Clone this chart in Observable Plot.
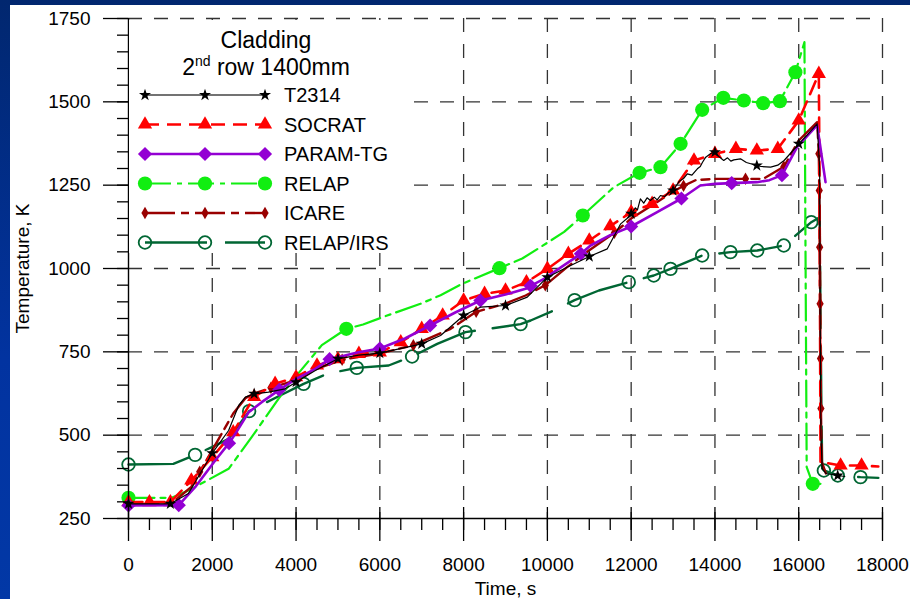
<!DOCTYPE html>
<html>
<head>
<meta charset="utf-8">
<script src="https://cdn.jsdelivr.net/npm/d3@7"></script>
<script src="https://cdn.jsdelivr.net/npm/@observablehq/plot@0.6"></script>
<style>
  body { margin: 0; }
  #wrap { position: relative; width: 910px; height: 599px; overflow: hidden;
          background: linear-gradient(180deg, #01276f 0%, #0233a0 60%, #0238a6 100%); }
  #chartbox { position: absolute; left: 10px; top: 5px; width: 900px; height: 594px; z-index: 1; }
  #legend { position: absolute; left: 129px; top: 20px; width: 274px; height: 233px; background: #ffffff; z-index: 5; }
</style>
</head>
<body>
<div id="wrap"><div id="chartbox"></div></div>
<script>
// ---------------- data ----------------
const t2314Time = [0,500,1000,1430,2000,2390,2630,2790,3000,3340,3740,4000,4460,5000,5500,6000,6650,7000,7450,8000,8400,9000,9520,10000,10470,11000,11430,11750,11900,12000,12100,12150,12220,12300,12380,12460,12550,12620,12700,12800,12900,13000,13150,13250,13340,13450,13580,13650,13700,13780,13900,14000,14100,14210,14300,14380,14450,14610,14750,15000,15100,15330,15500,15650,15800,16000,16200,16440,16500,16510,16530,16560,16650,16930,17100];
const t2314Temp = [294,294,294,325,446,514,589,614,624,629,639,659,694,729,740,746,764,774,799,859,884,889,914,974,1004,1036,1059,1134,1150,1164,1182,1176,1209,1196,1212,1204,1214,1206,1219,1216,1228,1234,1262,1270,1284,1280,1299,1306,1318,1334,1345,1349,1335,1324,1332,1322,1326,1329,1318,1309,1306,1304,1310,1324,1345,1374,1400,1434,1300,900,500,400,385,379,376];
const t2314Marks = [0,1000,2000,3000,4000,5000,6000,7000,8000,9000,10000,11000,12000,13000,14000,15000,16000,16930];

const socratTime = [0,500,1000,1500,2000,2500,3000,3500,4000,4500,5000,5500,6000,6500,7000,7500,8000,8500,9000,9500,10000,10500,11000,11500,12000,12500,13000,13500,14000,14500,15000,15500,16000,16480,16500,16520,17000,17500,17900];
const socratTemp = [299,299,299,364,434,509,615,654,674,709,728,744,748,779,819,859,904,924,934,959,999,1044,1084,1127,1169,1194,1234,1324,1344,1359,1354,1359,1444,1584,1200,420,409,409,406];
const socratMarks = [0,500,1000,1500,2000,2500,3000,3500,4000,4500,5000,5500,6000,6500,7000,7500,8000,8500,9000,9500,10000,10500,11000,11500,12000,12500,13000,13500,14000,14500,15000,15500,16000,16480,17000,17500];

const paramTime = [0,1200,1590,2070,2400,2550,2870,3180,3600,4000,4460,4800,5490,6000,6600,7200,7800,8400,9000,9480,9600,9920,10400,10800,11030,11500,12000,12620,13200,13650,14000,14400,15000,15300,15600,15960,16440,16640];
const paramTemp = [289,290,344,424,476,504,569,599,636,669,699,728,749,760,790,829,868,904,922,939,948,969,1010,1044,1069,1100,1126,1169,1210,1249,1254,1256,1259,1265,1280,1364,1430,1259];
const paramMarks = [0,1200,2400,3600,4800,6000,7200,8400,9600,10800,12000,13200,14400,15600];

const relapTime = [0,1030,1430,2390,2940,3580,3980,4615,5200,5600,6175,6970,7450,7965,8856,9400,9835,10400,10845,11585,12200,12700,13180,13695,14200,14690,15150,15550,15920,16137,16160,16190,16336,16650];
const relapTemp = [312,312,334,399,494,609,674,770,819,832,859,894,920,954,1001,1030,1064,1110,1159,1244,1287,1304,1374,1476,1512,1504,1496,1502,1589,1679,1100,404,354,354];
const relapMarks = [0,5200,8856,10845,12200,12700,13180,13695,14200,14690,15150,15550,15920,16336];

const icareTime = [0,1000,1500,1700,2000,2500,2800,3000,3400,4000,4500,5100,5500,6000,6800,7690,8300,9000,9480,9950,10470,11000,11600,12000,12500,13000,13250,13540,14000,14730,15150,15644,16000,16440,16480,16490,16500,16510,16520,16530,16550,16650];
const icareTemp = [292,292,345,390,455,565,612,625,642,665,700,726,735,745,770,819,870,895,919,950,1004,1055,1107,1150,1190,1230,1248,1265,1269,1269,1269,1305,1384,1439,1344,1234,1064,894,730,580,420,385];
const icareMarks = [0,1700,3400,5100,6800,8300,9950,11600,13250,14730,15644,16480,16490,16500,16510,16520,16530];

const irsTime = [0,1070,1590,1990,2390,2880,3060,3620,4180,4740,5450,6210,6770,7370,8045,9360,9600,10150,10650,11230,11943,12540,12940,13695,14370,15010,15644,16300,16500,16540,16560,16600,16933,17475,17900];
const irsTemp = [412,414,441,464,489,572,584,619,654,684,702,709,736,774,809,833,844,874,905,934,959,979,999,1039,1049,1054,1069,1139,1154,600,400,394,379,374,372];
const irsMarks = [0,1590,2880,4180,5450,6770,8045,9360,10650,11943,12540,12940,13695,14370,15010,15644,16300,16600,16933,17475];

const xMajorTicks = [0,2000,4000,6000,8000,10000,12000,14000,16000,18000];
const yMajorTicks = [250,500,750,1000,1250,1500,1750];
const seriesNames = ["T2314","SOCRAT","PARAM-TG","RELAP","ICARE","RELAP/IRS"];
const legendTitle = "Cladding";
const xLabel = "Time, s";
const yLabel = "Temperature, K";

// ---------------- helpers ----------------
const pts = (time, temp) => time.map((t, i) => ({t, v: temp[i]}));
const marksOf = (time, temp, m) => m.map(t => ({t, v: temp[time.indexOf(t)]}));

const styles = {
  "T2314":     {stroke: "#000000", width: 1.2, dash: null,        symbol: "star",     r: 3.8, fill: "#000000", mstroke: "none"},
  "SOCRAT":    {stroke: "#ff0000", width: 2.6, dash: "14,8",      symbol: "triangle", r: 5.3, fill: "#ff0000", mstroke: "none"},
  "PARAM-TG":  {stroke: "#9400d3", width: 2.6, dash: null,        symbol: "diamond2", r: 6.4, fill: "#9400d3", mstroke: "none"},
  "RELAP":     {stroke: "#11ee11", width: 2.2, dash: "26,6,5,6",  symbol: "circle",   r: 7.1, fill: "#11ee11", mstroke: "none"},
  "ICARE":     {stroke: "#990000", width: 2.4, dash: "30,6,8,6",  symbol: "diamond",  r: 3.8, fill: "#990000", mstroke: "none"},
  "RELAP/IRS": {stroke: "#006633", width: 2.4, dash: "62,18",     symbol: "circle",   r: 6.3, fill: "none",    mstroke: "#006633"}
};

const seriesData = {
  "T2314": [t2314Time, t2314Temp, t2314Marks],
  "SOCRAT": [socratTime, socratTemp, socratMarks],
  "PARAM-TG": [paramTime, paramTemp, paramMarks],
  "RELAP": [relapTime, relapTemp, relapMarks],
  "ICARE": [icareTime, icareTemp, icareMarks],
  "RELAP/IRS": [irsTime, irsTemp, irsMarks]
};

const drawOrder = ["RELAP/IRS","RELAP","ICARE","SOCRAT","PARAM-TG","T2314"];
const seriesMarks = [];
for (const name of drawOrder) {
  const [time, temp, m] = seriesData[name];
  const s = styles[name];
  seriesMarks.push(Plot.line(pts(time, temp), {x: "t", y: "v", stroke: s.stroke, strokeWidth: s.width, strokeDasharray: s.dash, strokeLinejoin: "round"}));
  seriesMarks.push(Plot.dot(marksOf(time, temp, m), {x: "t", y: "v", symbol: s.symbol, r: s.r, fill: s.fill, stroke: s.mstroke, strokeWidth: 1.8}));
}

const gridStyle = {stroke: "#333", strokeOpacity: 1, strokeWidth: 1.3, strokeDasharray: "14,12"};

const chart = Plot.plot({
  width: 900, height: 594,
  marginLeft: 118, marginRight: 28, marginTop: 13, marginBottom: 81,
  x: {domain: [0, 18000]},
  y: {domain: [250, 1750]},
  style: {background: "white", color: "black", fontFamily: "'Liberation Sans', Arial, sans-serif", fontSize: "19px", overflow: "visible"},
  marks: [
    Plot.gridX(xMajorTicks.filter(d => d > 0), gridStyle),
    Plot.gridY(yMajorTicks.filter(d => d > 250), gridStyle),
    ...seriesMarks,
    Plot.ruleY([250], {stroke: "black", strokeWidth: 1.4}),
    Plot.ruleX([0], {stroke: "black", strokeWidth: 1.4}),
    Plot.axisX({ticks: xMajorTicks, tickSize: 23, tickPadding: 16, tickFormat: "d", label: null, strokeWidth: 1.3}),
    Plot.axisX({ticks: xMajorTicks, tickSize: 11, dy: -11, tickFormat: () => "", label: null, strokeWidth: 1.3}),
    Plot.axisX({ticks: d3.range(0, 18001, 500), tickSize: 12, tickFormat: () => "", label: null, strokeWidth: 1.3}),
    Plot.axisY({ticks: yMajorTicks, tickSize: 25, tickPadding: 13, tickFormat: "d", label: null, strokeWidth: 1.3}),
    Plot.axisY({ticks: d3.range(250, 1751, 50), tickSize: 11, tickFormat: () => "", label: null, strokeWidth: 1.3}),
    Plot.text([xLabel], {frameAnchor: "bottom", dy: 70, fontSize: 19, lineAnchor: "middle"}),
    Plot.text([yLabel], {frameAnchor: "left", dx: -106, rotate: -90, fontSize: 19, lineAnchor: "middle", textAnchor: "middle"})
  ]
});
const wrap = document.getElementById("wrap");
document.getElementById("chartbox").appendChild(chart);

// ---------------- legend (separate opaque overlay box) ----------------
const LX = 129, LY = 20; // overlay origin in page pixels
const legendDiv = d3.select(wrap).append("div").attr("id", "legend");
const lg = legendDiv.append("svg").attr("width", 274).attr("height", 233)
  .style("display", "block").style("background", "#ffffff");
lg.append("rect").attr("x", 0).attr("y", 0).attr("width", 274).attr("height", 233).attr("fill", "#ffffff");
const g = lg.append("g").attr("transform", `translate(${-LX},${-LY})`);
const font = "'Liberation Sans', Arial, sans-serif";
g.append("text").attr("x", 266).attr("y", 48).attr("text-anchor", "middle")
  .attr("font-family", font).attr("font-size", 23).text(legendTitle);
const t2 = g.append("text").attr("x", 266).attr("y", 75).attr("text-anchor", "middle")
  .attr("font-family", font).attr("font-size", 23);
t2.append("tspan").text("2");
t2.append("tspan").attr("font-size", 14).attr("dy", -9).text("nd");
t2.append("tspan").attr("dy", 9).text(" row 1400mm");

const symMap = {star: d3.symbolStar, triangle: d3.symbolTriangle, diamond2: d3.symbolDiamond2 || d3.symbolSquare, circle: d3.symbolCircle, diamond: d3.symbolDiamond};
seriesNames.forEach((name, i) => {
  const s = styles[name];
  const cy = 95 + i * 29.5;
  const ln = g.append("line").attr("x1", 145).attr("x2", 265).attr("y1", cy).attr("y2", cy)
    .attr("stroke", name === "T2314" ? "#444" : s.stroke).attr("stroke-width", name === "T2314" ? 1.6 : s.width);
  if (s.dash) ln.attr("stroke-dasharray", s.dash);
  for (const x of [145, 205, 265]) {
    g.append("path").attr("transform", `translate(${x},${cy})`)
      .attr("d", d3.symbol(symMap[s.symbol], Math.PI * s.r * s.r)())
      .attr("fill", s.fill).attr("stroke", s.mstroke).attr("stroke-width", 1.8);
  }
  g.append("text").attr("x", 284).attr("y", cy + 7).attr("text-anchor", "start")
    .attr("font-family", font).attr("font-size", 20).text(name);
});
</script>
</body>
</html>
